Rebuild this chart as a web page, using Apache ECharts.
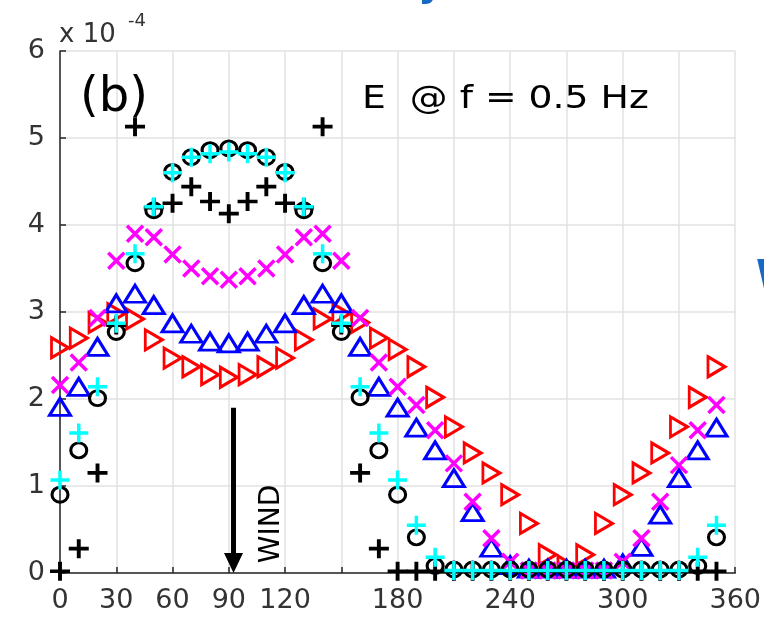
<!DOCTYPE html>
<html><head><meta charset="utf-8">
<script src="https://cdn.jsdelivr.net/npm/echarts@6/dist/echarts.min.js"></script>
<style>html,body{margin:0;padding:0;background:#fff}#c{width:764px;height:621px}</style>
</head><body><div id="c"></div>
<script>
// Direction (deg) and energy values (units of 1e-4)
const angles = [0,10,20,30,40,50,60,70,80,90,100,110,120,130,140,150,160,170,180,190,200,210,220,230,240,250,260,270,280,290,300,310,320,330,340,350];
const blackCircle = [0.90,1.41,2.01,2.77,3.56,4.17,4.61,4.78,4.86,4.88,4.86,4.78,4.61,4.17,3.56,2.77,2.02,1.41,0.90,0.41,0.08,0.04,0.04,0.04,0.04,0.04,0.04,0.04,0.04,0.04,0.04,0.04,0.04,0.04,0.08,0.41];
const cyanPlus = [1.07,1.61,2.14,2.87,3.67,4.21,4.60,4.78,4.82,4.84,4.82,4.78,4.60,4.21,3.67,2.87,2.14,1.61,1.07,0.55,0.18,0.03,0.03,0.03,0.03,0.03,0.03,0.03,0.03,0.03,0.03,0.03,0.03,0.03,0.18,0.55];
const blackPlus = [0.02,0.28,1.15,2.85,5.13,4.20,4.25,4.44,4.27,4.13,4.27,4.44,4.25,4.20,5.13,2.85,1.15,0.28,0.02,0.02,0.02,0.02,0.02,0.02,0.02,0.02,0.02,0.02,0.02,0.02,0.02,0.02,0.02,0.02,0.02,0.02];
const magentaX = [2.16,2.42,2.93,3.59,3.90,3.86,3.66,3.50,3.41,3.37,3.41,3.50,3.66,3.86,3.90,3.59,2.93,2.42,2.14,1.93,1.64,1.26,0.82,0.40,0.13,0.03,0.03,0.03,0.03,0.03,0.13,0.40,0.82,1.24,1.64,1.93];
const blueTri = [1.91,2.14,2.60,3.10,3.21,3.08,2.87,2.75,2.66,2.64,2.66,2.75,2.87,3.08,3.21,3.10,2.60,2.14,1.90,1.67,1.41,1.09,0.70,0.29,0.09,0.05,0.05,0.05,0.05,0.05,0.11,0.30,0.67,1.09,1.41,1.67];
const redTri = [2.59,2.70,2.88,2.98,2.92,2.68,2.47,2.37,2.28,2.25,2.28,2.37,2.47,2.68,2.92,2.98,2.88,2.70,2.57,2.37,2.02,1.68,1.38,1.15,0.90,0.57,0.21,0.08,0.21,0.57,0.90,1.15,1.38,1.68,2.02,2.37];
const xTickLabels = [0,30,60,90,120,180,240,300,360];
const yTickLabels = [0,1,2,3,4,5,6];
const windArrow = {x: 92.5, from: 1.90, to: 0};

const FONT = 'DejaVu Sans';
const TXT = '#262626';
function pts(vals){ return angles.map((a,i)=>[a, vals[i]]); }
const SYM = {
  circle: 'path://M10,0A10,10,0,1,1,10,20A10,10,0,1,1,10,0Z',
  plus: 'path://M10,0L10,20M0,10L20,10',
  cross: 'path://M0,0L20,20M20,0L0,20',
  up: 'path://M10,0L20,17L0,17Z',
  right: 'path://M0,0L17,10L0,20Z'
};
function ser(name, vals, sym, size, color, bw){
  return {name, type:'scatter', data: pts(vals), symbol: sym, symbolSize: size,
    itemStyle:{color:'none', borderColor: color, borderWidth: bw, opacity:1},
    emphasis:{disabled:true}, silent:true, animation:false};
}
const chart = echarts.init(document.getElementById('c'), null, {renderer:'canvas'});
chart.setOption({
  animation:false,
  grid:{left:60, right:25, top:51, bottom:48, containLabel:false},
  xAxis:{type:'value', min:0, max:360, interval:30,
    axisLine:{show:true, onZero:false, lineStyle:{color:TXT, width:1.5}},
    axisTick:{show:true, inside:true, length:6, lineStyle:{color:TXT, width:1.5}},
    axisLabel:{fontFamily:FONT, fontSize:27, color:'#333', margin:14,
      formatter: v => xTickLabels.includes(v) ? String(v) : ''},
    splitLine:{show:true, lineStyle:{color:'#e2e2e2', width:1.5}}},
  yAxis:{type:'value', min:0, max:6, interval:1,
    axisLine:{show:true, onZero:false, lineStyle:{color:TXT, width:1.5}},
    axisTick:{show:true, inside:true, length:6, lineStyle:{color:TXT, width:1.5}},
    axisLabel:{fontFamily:FONT, fontSize:27, color:'#333', margin:15, padding:[4,0,0,0],
      formatter: v => yTickLabels.includes(v) ? String(v) : ''},
    splitLine:{show:true, lineStyle:{color:'#e2e2e2', width:1.5}}},
  series:[
    ser('red', redTri, SYM.right, [17,20], '#ff0000', 3),
    ser('blue', blueTri, SYM.up, [21,17], '#0000ff', 3),
    ser('magenta', magentaX, SYM.cross, [16,16], '#ff00ff', 3.5),
    ser('blackCircle', blackCircle, SYM.circle, [16,15], '#000000', 3),
    ser('blackPlus', blackPlus, SYM.plus, [20,19], '#000000', 3.8),
    ser('cyanPlus', cyanPlus, SYM.plus, [19,19], '#00ffff', 3.5)
  ]
});
const arrTop = chart.convertToPixel({gridIndex:0}, [windArrow.x, windArrow.from]);
const arrTip = chart.convertToPixel({gridIndex:0}, [windArrow.x, windArrow.to]);
const headH = 20, headW = 19;
chart.setOption({graphic:[
  {type:'line', shape:{x1:arrTop[0], y1:arrTop[1], x2:arrTip[0], y2:arrTip[1]-headH+2}, style:{stroke:'#000', lineWidth:5}, silent:true},
  {type:'polygon', shape:{points:[[arrTip[0]-headW/2, arrTip[1]-headH],[arrTip[0]+headW/2, arrTip[1]-headH],[arrTip[0], arrTip[1]]]}, style:{fill:'#000'}, silent:true},
  {type:'text', x:272, y:524, rotation:Math.PI/2, style:{text:'WIND', font:'28px "DejaVu Sans"', fill:'#000', align:'center', verticalAlign:'middle'}, silent:true},
  {type:'text', x:80, y:99, style:{text:'(b)', font:'48px "DejaVu Sans"', fill:'#000', align:'left', verticalAlign:'middle'}, silent:true},
  {type:'text', x:362, y:100, scaleX:1.18, style:{text:'E  @ f = 0.5 Hz', font:'32px "DejaVu Sans"', fill:'#000', align:'left', verticalAlign:'middle'}, silent:true},
  {type:'text', x:59, y:35, style:{text:'x 10', font:'26px "DejaVu Sans"', fill:'#333', align:'left', verticalAlign:'middle'}, silent:true},
  {type:'text', x:128, y:21, style:{text:'-4', font:'18px "DejaVu Sans"', fill:'#333', align:'left', verticalAlign:'middle'}, silent:true},
  {type:'text', x:418, y:5, style:{text:'y', font:'bold 40px "DejaVu Sans"', fill:'#1769c4', align:'left', verticalAlign:'bottom'}, silent:true},
  {type:'text', x:756, y:279, style:{text:'W', font:'bold 40px "DejaVu Sans"', fill:'#1769c4', align:'left', verticalAlign:'middle'}, silent:true}
]});
</script></body></html>
